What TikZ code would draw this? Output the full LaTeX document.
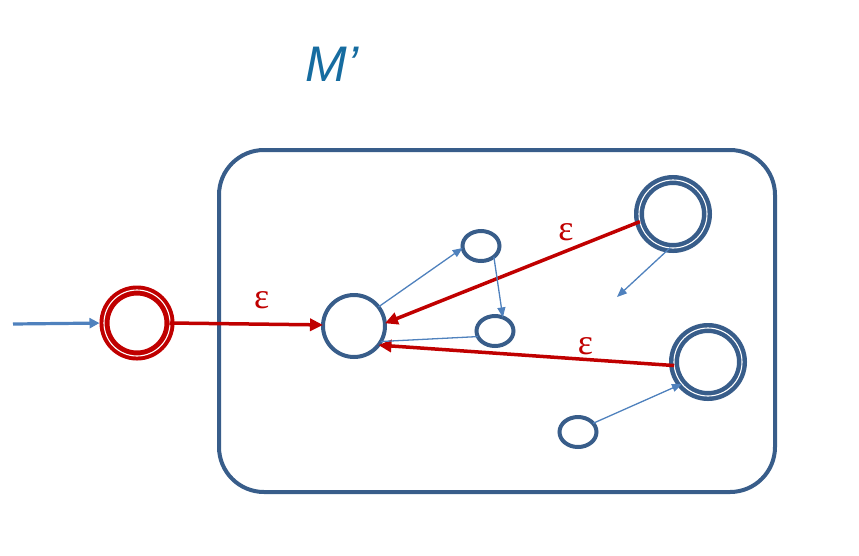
\documentclass[tikz,border=0pt]{standalone}
\usepackage{fontspec}
\usetikzlibrary{arrows.meta,shapes.geometric}
\newfontfamily\titlefont{Liberation Sans}
\newfontfamily\epsfont{Liberation Serif}
\definecolor{stateblue}{RGB}{56,93,138}
\definecolor{edgeblue}{RGB}{79,129,189}
\definecolor{epsred}{RGB}{192,0,0}
\definecolor{titleblue}{RGB}{22,108,160}

\begin{document}
\begin{tikzpicture}[x=1pt,y=-1pt,
    state/.style={circle, draw=stateblue, line width=4pt, minimum size=62pt, inner sep=0pt, outer sep=0pt},
    small/.style={ellipse, draw=stateblue, line width=4pt, minimum width=37pt, minimum height=30pt, inner sep=0pt, outer sep=0pt},
    accept/.style={circle, draw=stateblue, line width=10pt, minimum size=68pt, inner sep=0pt, outer sep=0pt},
    startstate/.style={accept, draw=epsred, minimum size=65pt},
    gap/.style={white, line width=1.1pt},
    thin/.style={draw=edgeblue, line width=1.3pt, -{Triangle[length=10pt,width=8pt]}},
    input/.style={draw=edgeblue, line width=3.2pt, -{Triangle[length=10pt,width=10pt]}},
    eps/.style={draw=epsred, line width=3.5pt, -{Triangle[length=13pt,width=12pt]}},
    epslabel/.style={text=epsred, font=\epsfont\fontsize{36}{40}\selectfont, inner sep=1pt}]
    \useasboundingbox (0,0) rectangle (859,555);

    % Title
    \node[text=titleblue, font=\titlefont\itshape\fontsize{50}{54}\selectfont] (title) at (332,64) {M’};

    % Machine box
    \draw[stateblue, line width=4pt, rounded corners=45pt] (219,150) rectangle (775,492);

    % States
    \node[startstate] (s0) at (137,323) {};
    \node[state] (q0) at (354,326) {};
    \node[small] (qa) at (481,246) {};
    \node[small] (qb) at (495,331) {};
    \node[accept] (qc) at (673,214) {};
    \node[accept] (qd) at (708,362) {};
    \node[small] (qe) at (578,432) {};
    \coordinate (in) at (13,324);
    \coordinate (cfree) at (617,297);

    % White line inside the double rings
    \foreach \n/\r in {s0/33, qc/34, qd/34}
        \draw[gap] (\n.center) circle[radius=\r pt];

    % Input arrow
    \draw[input, shorten >=5pt] (in) -- (s0.180);

    % Epsilon moves
    \draw[eps] (s0.0) -- node[epslabel, pos=0.6, above=13pt] (e1) {ε} (q0.178);
    \draw[eps] (qc.193) -- node[epslabel, pos=0.29, above=8pt] (e2) {ε} (q0.5);
    \draw[eps] (qd.186) -- node[epslabel, pos=0.3, above=1.5pt] (e3) {ε} (q0.-38);

    % Inner moves of M
    \draw[thin] (q0.38) -- (qa.186);
    \draw[thin] (qa.-40) -- (qb.60);
    \draw[edgeblue, line width=1.3pt] (qb.198) -- (q0.-30);
    \draw[thin] (qc.265) -- (cfree);
    \draw[thin] (qe.30) -- (qd.220);
\end{tikzpicture}
\end{document}
